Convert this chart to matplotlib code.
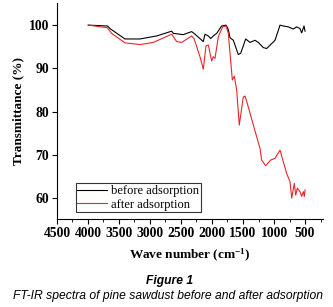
import matplotlib
matplotlib.use("Agg")
import matplotlib.pyplot as plt
from matplotlib.ticker import MultipleLocator

plt.rcParams["mathtext.fontset"] = "custom"
plt.rcParams["mathtext.rm"] = "Liberation Serif:bold"
plt.rcParams["mathtext.bf"] = "Liberation Serif:bold"
plt.rcParams["mathtext.it"] = "Liberation Serif:bold"

# FT-IR spectra (wavenumber cm-1, transmittance %)
wn_before = [3995, 3683, 3645, 3403, 3161, 2892, 2650, 2624, 2463, 2328, 2290,
             2140, 2113, 2059, 2021, 1979, 1924, 1844, 1774, 1737, 1710, 1656,
             1576, 1537, 1457, 1387, 1306, 1253, 1172, 1118, 984, 903, 850,
             769, 689, 635, 581, 554, 516, 500]
t_before = [100.0, 99.8, 99.2, 96.8, 96.8, 97.5, 98.6, 98.1, 97.8, 98.5, 98.1,
            96.2, 97.9, 97.5, 96.9, 97.5, 98.1, 99.8, 100.0, 99.0, 97.1, 96.5,
            93.2, 93.5, 96.8, 96.0, 96.5, 96.0, 94.8, 94.6, 96.5, 100.0, 99.8,
            99.6, 99.1, 99.6, 99.2, 98.2, 99.8, 98.6]

wn_after = [3995, 3689, 3618, 3403, 3161, 2947, 2650, 2570, 2489, 2328, 2290,
            2194, 2140, 2097, 2059, 2005, 1979, 1952, 1898, 1828, 1774, 1737,
            1672, 1640, 1602, 1560, 1495, 1468, 1431, 1280, 1226, 1199, 1134,
            1054, 984, 903, 850, 796, 742, 715, 673, 650, 624, 581, 554, 527,
            511, 500]
t_after = [100.0, 99.4, 98.1, 95.9, 95.5, 96.0, 97.9, 96.2, 96.0, 97.5, 96.9,
           92.7, 89.8, 95.2, 95.4, 91.7, 92.7, 92.3, 97.3, 99.6, 99.8, 98.1,
           87.3, 88.2, 85.0, 76.9, 83.4, 83.6, 81.9, 74.2, 71.5, 68.8, 67.5,
           68.8, 69.2, 71.1, 68.4, 65.7, 63.8, 60.0, 63.4, 60.7, 62.3, 61.5,
           60.4, 61.5, 60.4, 61.9]

x_ticks = [4500, 4000, 3500, 3000, 2500, 2000, 1500, 1000, 500]
y_ticks = [60, 70, 80, 90, 100]

fig = plt.figure(figsize=(3.33, 3.07), dpi=100)
ax = fig.add_axes([0.171, 0.287, 0.799, 0.703])

ax.plot(wn_before, t_before, color="black", lw=0.8, label="before adsorption")
ax.plot(wn_after, t_after, color="#e8262a", lw=0.8, label="after adsorption")

ax.set_xlim(4500, 210)
ax.set_ylim(55.2, 105.1)
ax.set_xticks(x_ticks)
ax.set_yticks(y_ticks)
ax.xaxis.set_minor_locator(MultipleLocator(250))

for s in ("top", "right"):
    ax.spines[s].set_visible(False)
ax.tick_params(which="major", direction="out", length=3.5, width=0.8, pad=2)
ax.tick_params(which="minor", direction="out", length=2, width=0.6)

tick_font = {"family": "Liberation Serif", "weight": "bold", "size": 9.8}
for lab in ax.get_xticklabels() + ax.get_yticklabels():
    lab.set_fontproperties(tick_font)

ax.set_xlabel("Wave number (cm$^{-1}$)", family="Liberation Serif",
              weight="bold", size=9.5, labelpad=5)
ax.set_ylabel("Transmittance (%)", family="Liberation Serif",
              weight="bold", size=9.5, labelpad=3)

leg = ax.legend(loc="lower left", bbox_to_anchor=(0.07, 0.03),
                prop={"family": "Liberation Serif", "size": 9},
                frameon=True, fancybox=False, edgecolor="black",
                handlelength=2.4, borderpad=0.15, labelspacing=0.1,
                handletextpad=0.3, borderaxespad=0)
leg.get_frame().set_linewidth(0.8)

fig.text(0.51, 0.075, "Figure 1", ha="center", family="Liberation Sans",
         style="italic", weight="bold", size=8.7)
fig.text(0.505, 0.026, "FT-IR spectra of pine sawdust before and after adsorption",
         ha="center", family="Liberation Sans", style="italic", size=8.7)

fig.savefig("out.png", dpi=100)
